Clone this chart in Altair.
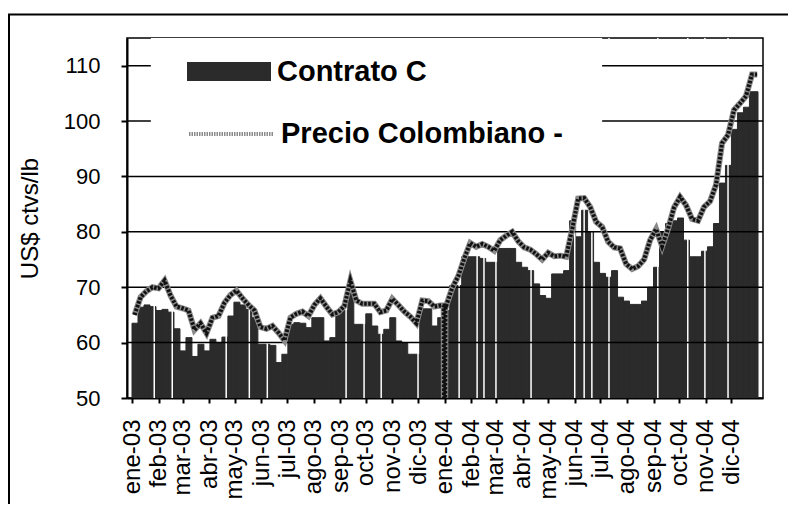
import altair as alt
import pandas as pd
import numpy as np

# ---------------- data ----------------
week_starts = pd.date_range("2003-01-01", periods=105, freq="7D")

contrato_c = [
    63.5, 66.4, 66.8, 66.5, 65.8, 66.0, 65.5, 62.5, 58.5, 60.9,
    57.5, 59.7, 58.5, 60.6, 60.0, 61.0, 64.8, 67.3, 66.8, 66.0,
    64.5, 59.7, 59.7, 59.5, 56.4, 57.9, 63.3, 63.6, 63.5, 62.7,
    64.5, 64.5, 60.3, 60.9, 65.8, 65.8, 69.4, 63.3, 63.3, 65.2,
    63.0, 61.5, 62.4, 64.5, 60.3, 60.0, 57.9, 57.9, 66.1, 66.1,
    63.0, 64.5, 65.8, 70.3, 70.3, 75.5, 75.5, 75.5, 75.2, 74.5,
    74.5, 77.0, 77.0, 77.0, 74.5, 73.6, 73.0, 70.6, 68.5, 68.0,
    72.4, 72.4, 73.0, 82.0, 79.1, 83.9, 80.0, 74.5, 72.5, 71.8,
    73.0, 68.2, 67.5, 66.9, 66.9, 67.5, 70.0, 73.6, 80.0, 81.5,
    82.0, 82.5, 78.5, 75.5, 75.5, 76.5, 77.3, 81.5, 88.8, 92.0,
    98.5, 101.5, 102.5, 105.3, 105.3,
]

precio_colombiano = [
    65.0, 68.2, 69.3, 70.0, 69.8, 71.2, 68.5, 66.5, 66.2, 65.8,
    62.3, 63.5, 61.7, 64.5, 64.8, 67.2, 68.6, 69.4, 68.0, 66.8,
    65.8, 62.8, 62.5, 63.0, 61.8, 60.4, 64.5, 65.2, 65.6, 64.8,
    66.8, 68.0, 66.5, 65.1, 65.5, 66.6, 71.2, 67.6, 67.0, 67.0,
    67.0, 65.5, 65.8, 67.9, 66.8, 65.6, 64.7, 63.5, 67.6, 67.5,
    66.5, 66.7, 66.7, 69.9, 72.0, 75.2, 78.0, 77.3, 77.8, 77.3,
    76.6, 78.5, 79.3, 80.0, 78.3, 77.2, 76.8, 76.0, 75.0, 76.2,
    75.6, 75.7, 75.5, 80.5, 86.0, 86.1, 84.5, 81.8, 80.9, 78.2,
    77.2, 77.0, 74.2, 73.3, 73.8, 75.0, 78.5, 80.5, 77.4, 80.6,
    84.4, 86.3, 84.8, 82.3, 82.0, 84.5, 85.5, 88.5, 96.0, 97.5,
    102.0, 103.2, 104.5, 108.4, 108.4,
]

# the price series dips below the axis at the turn of the year
drop_dates = ["2003-12-31", "2004-01-01", "2004-01-02"]
drop_values = [66.7, 0.0, 66.7]

# days without a Contrato C quote (white gaps between the bars)
gap_dates = [
    "2003-01-27", "2003-02-17", "2003-04-21", "2003-05-18", "2003-06-08",
    "2003-09-08", "2003-09-29", "2003-10-19", "2003-12-01", "2004-01-18",
    "2004-02-08", "2004-02-16", "2004-03-01", "2004-04-11", "2004-06-01",
    "2004-06-12", "2004-06-21", "2004-07-11", "2004-09-06", "2004-10-11",
    "2004-10-31", "2004-11-27",
]

y_ticks = [50, 60, 70, 80, 90, 100, 110]
grid_values = [60, 70, 80, 90, 100, 110]
month_names = ["ene", "feb", "mar", "abr", "may", "jun",
               "jul", "ago", "sep", "oct", "nov", "dic"]
series_names = ["Contrato C", "Precio Colombiano -"]
y_range = [50, 115]
# white background behind the legend (data coordinates)
legend_box_x = ["2003-01-23", "2004-07-03"]
legend_box_y = [94.4, 115]

# ---------------- tables ----------------
end_limit = pd.Timestamp("2005-01-01")
bars_df = pd.DataFrame({
    "start": week_starts,
    "end": [min(d + pd.Timedelta(days=7), end_limit) for d in week_starts],
    "value": contrato_c,
    "base": y_range[0],
    "serie": series_names[0],
})

line_dates = [d + pd.Timedelta(days=3) for d in week_starts]
line_dates[-1] = pd.Timestamp("2004-12-31")
line_df = pd.DataFrame({"date": line_dates, "value": precio_colombiano})
line_df = pd.concat([line_df, pd.DataFrame({"date": pd.to_datetime(drop_dates),
                                            "value": drop_values})])
line_df = line_df.sort_values("date").reset_index(drop=True)
line_df["serie"] = series_names[1]

gaps_df = pd.DataFrame({"date": pd.to_datetime(gap_dates),
                        "lo": y_range[0], "hi": y_range[1]})
grid_df = pd.DataFrame({"v": grid_values})
box_df = pd.DataFrame({"x1": [pd.Timestamp(legend_box_x[0])], "x2": [pd.Timestamp(legend_box_x[1])],
                       "y1": [legend_box_y[0]], "y2": [legend_box_y[1]]})

# ---------------- scales / axes ----------------
FONT = "Liberation Sans"
month_ticks = [alt.DateTime(year=y, month=m, date=1) for y in (2003, 2004) for m in range(1, 13)]
names_js = "[" + ",".join("'%s'" % n for n in month_names) + "]"

xscale = alt.Scale(domain=[alt.DateTime(year=2003, month=1, date=1),
                           alt.DateTime(year=2005, month=1, date=1)])
xaxis = alt.Axis(values=month_ticks,
                 labelExpr=names_js + "[month(datum.value)] + '-' + timeFormat(datum.value, '%y')",
                 labelAngle=-90, labelFontSize=24, labelFont=FONT, labelColor="black",
                 labelOverlap=False, labelFlush=False, labelPadding=16,
                 tickSize=5, tickWidth=2, tickColor="black",
                 domainColor="black", domainWidth=2, grid=False, title=None)
yscale = alt.Scale(domain=y_range, nice=False, zero=False)
yaxis = alt.Axis(values=y_ticks, tickSize=6, tickWidth=2, tickColor="black",
                 domainColor="black", domainWidth=2, labelFontSize=22, labelFont=FONT,
                 labelColor="black", labelPadding=21, grid=False,
                 title="US$ ctvs/lb", titleFontSize=24, titleFont=FONT,
                 titleFontWeight="normal", titleColor="black", titlePadding=21)


def X(field):
    return alt.X(field, scale=xscale, axis=xaxis)


def Y(field):
    return alt.Y(field, scale=yscale, axis=yaxis)


legend_bar = alt.Legend(orient="none", legendX=60, legendY=-8.5, title=None, padding=0,
                        symbolType="M-1,-0.226H1V0.226H-1Z", symbolSize=7056,
                        symbolStrokeWidth=0, symbolOpacity=1,
                        labelFont=FONT, labelFontSize=29, labelFontWeight="bold",
                        labelColor="black", labelOffset=6, labelLimit=500)
legend_line = alt.Legend(orient="none", legendX=60, legendY=52, title=None, padding=0,
                         symbolType="stroke", symbolSize=7056, symbolStrokeWidth=4,
                         symbolDash=[1.5, 1], symbolOpacity=1,
                         labelFont=FONT, labelFontSize=29, labelFontWeight="bold",
                         labelColor="black", labelOffset=6, labelLimit=500)

BAR_COLOR = "#2b2b2b"
bars = alt.Chart(bars_df).mark_bar(clip=True, orient="vertical", stroke=BAR_COLOR,
                                   strokeWidth=1).encode(
    x=X("start:T"), x2="end:T", y=Y("value:Q"), y2="base:Q",
    color=alt.Color("serie:N", scale=alt.Scale(range=[BAR_COLOR]), legend=legend_bar),
)
gaps = alt.Chart(gaps_df).mark_rule(color="white", strokeWidth=1.5).encode(
    x=X("date:T"), y=Y("lo:Q"), y2="hi:Q")
grid = alt.Chart(grid_df).mark_rule(color="black", strokeWidth=1.5).encode(y=Y("v:Q"))
box = alt.Chart(box_df).mark_rect(color="white").encode(
    x=X("x1:T"), x2="x2:T", y=Y("y1:Q"), y2="y2:Q")
line_gray = alt.Chart(line_df).mark_line(clip=True, strokeWidth=6).encode(
    x=X("date:T"), y=Y("value:Q"),
    stroke=alt.Stroke("serie:N", scale=alt.Scale(range=["#8a8a8a"]), legend=legend_line),
)
line_dots = alt.Chart(line_df).mark_line(clip=True, strokeWidth=4, strokeDash=[2.5, 1.5],
                                         color="#111111").encode(x=X("date:T"), y=Y("value:Q"))
frame = alt.Chart(pd.DataFrame({"a": [0]})).mark_rect(
    fillOpacity=0, stroke="black", strokeWidth=2, clip=False).encode(
    x=alt.value(-118), x2=alt.value(700), y=alt.value(-23.5), y2=alt.value(520))

chart = alt.layer(bars, gaps, grid, box, line_gray, line_dots, frame).properties(
    width=636, height=360,
    autosize=alt.AutoSizeParams(type="none"),
    padding={"left": 119, "top": 30, "right": 25, "bottom": 106},
).configure_view(stroke="black", strokeWidth=1.5)

chart.save("out.html", embed_options={"renderer": "svg", "actions": False})
